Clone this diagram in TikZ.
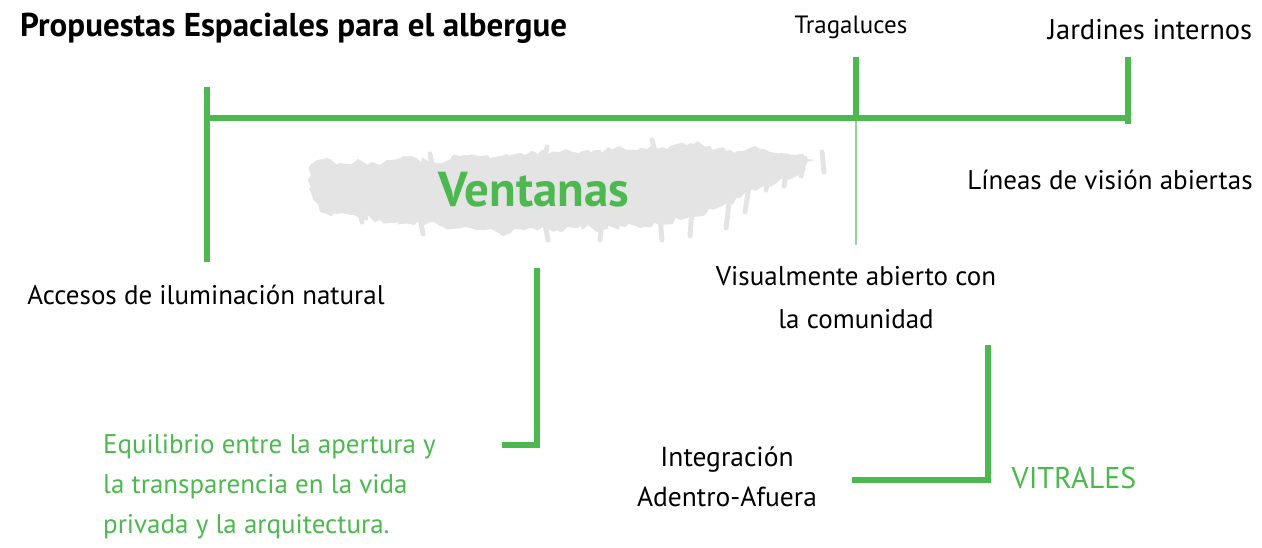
\documentclass[tikz,border=0pt]{standalone}
\usepackage{fontspec}
\setmainfont{PT Sans}
\usetikzlibrary{decorations.pathmorphing}
\definecolor{brush}{HTML}{4CB84F}
\definecolor{smear}{HTML}{E4E4E4}
\begin{document}
\begin{tikzpicture}[x=1pt,y=-1pt,
  lbl/.style={font=\fontsize{27}{43}\selectfont, text=black, inner sep=0pt},
  glbl/.style={lbl, font=\fontsize{27}{40}\selectfont, text=brush},
  titlelbl/.style={font=\fontsize{33}{36}\selectfont\bfseries, text=black, inner sep=0pt},
  bigword/.style={font=\fontsize{49}{52}\selectfont\bfseries, text=brush, inner sep=0pt},
  gline/.style={draw=brush, line width=5.5pt, line cap=butt, line join=miter},
  faint/.style={draw=brush, line width=1.3pt, opacity=0.6},
  streak/.style={draw=smear, line width=5pt, line cap=round},
  smearfill/.style={fill=smear, decorate, decoration={random steps, segment length=5pt, amplitude=3.5pt}}]
\useasboundingbox (0,0) rectangle (1262,548);

% grey brush smear behind the central word
\path[smearfill] (310,165) -- (318,160) -- (340,163) -- (360,160) -- (380,165) -- (400,158)
  -- (430,162) -- (460,156) -- (490,158) -- (520,153) -- (560,152) -- (600,150) -- (640,148)
  -- (670,146) -- (690,143) -- (710,146) -- (730,150) -- (750,148) -- (770,152) -- (795,155)
  -- (815,160) -- (800,172) -- (780,180) -- (760,188) -- (740,198) -- (720,207) -- (705,215)
  -- (680,220) -- (660,225) -- (640,228) -- (620,226) -- (600,230) -- (580,226) -- (560,232)
  -- (530,228) -- (500,234) -- (470,228) -- (440,226) -- (410,224) -- (380,220) -- (350,215)
  -- (320,212) -- (312,195) -- cycle;
\draw[streak] (770,160) -- (766,190);
\draw[streak] (788,160) -- (784,186);
\draw[streak] (805,158) -- (801,176);
\draw[streak] (822,152) -- (824,172);
\draw[streak] (750,180) -- (745,212);
\draw[streak] (730,195) -- (726,228);
\draw[streak] (692,210) -- (690,236);
\draw[streak] (660,218) -- (662,240);
\draw[streak] (602,222) -- (600,240);
\draw[streak] (545,225) -- (548,240);
\draw[streak] (420,218) -- (423,234);
\draw[streak] (360,208) -- (362,222);
\draw[streak] (655,152) -- (652,140);
\draw[streak] (545,158) -- (547,147);
\draw[streak] (432,165) -- (430,154);

% texts
\node[titlelbl, anchor=west] (title) at (20,28) {Propuestas Espaciales para el albergue};
\node[lbl, font=\fontsize{25}{30}\selectfont] (trag) at (851,27) {Tragaluces};
\node[lbl, font=\fontsize{28.5}{34}\selectfont] (jard) at (1150,30) {Jardines internos};
\node[bigword] (vent) at (534,190) {Ventanas};
\node[lbl] (lineas) at (1110,180) {Líneas de visión abiertas};
\node[lbl] (accesos) at (206,295) {Accesos de iluminación natural};
\node[lbl, align=center] (visual) at (856,298) {Visualmente abierto con\\la comunidad};
\node[glbl, align=left, anchor=west] (equil) at (103,487) {Equilibrio entre la apertura y\\la transparencia en la vida\\privada y la arquitectura.};
\node[lbl, align=center, font=\fontsize{27.5}{40}\selectfont] (integ) at (727,477) {Integración\\Adentro-Afuera};
\node[glbl, font=\fontsize{30}{34}\selectfont] (vitr) at (1074,478) {VITRALES};

% connector points
\coordinate (lt) at (207,87);
\coordinate (lb) at (207,262);
\coordinate (tt) at (856,57);
\coordinate (tm) at (856,118);
\coordinate (tb) at (856,245);
\coordinate (jt) at (1128,57);
\coordinate (jb) at (1128,124);
\coordinate (vt) at (537,268);
\coordinate (vc) at (537,445);
\coordinate (ve) at (502,445);
\coordinate (wt) at (988,345);
\coordinate (wc) at (988,480);
\coordinate (we) at (852,480);

% green brackets
\draw[gline] (lt) -- (lb);
\draw[gline] (lt |- tm) -- (jb |- tm);
\draw[gline] (tt) -- (tm);
\draw[faint] (tm) -- (tb);
\draw[gline] (jt) -- (jb);
\draw[gline] (vt) -- (vc) -- (ve);
\draw[gline] (wt) -- (wc) -- (we);
\end{tikzpicture}
\end{document}
